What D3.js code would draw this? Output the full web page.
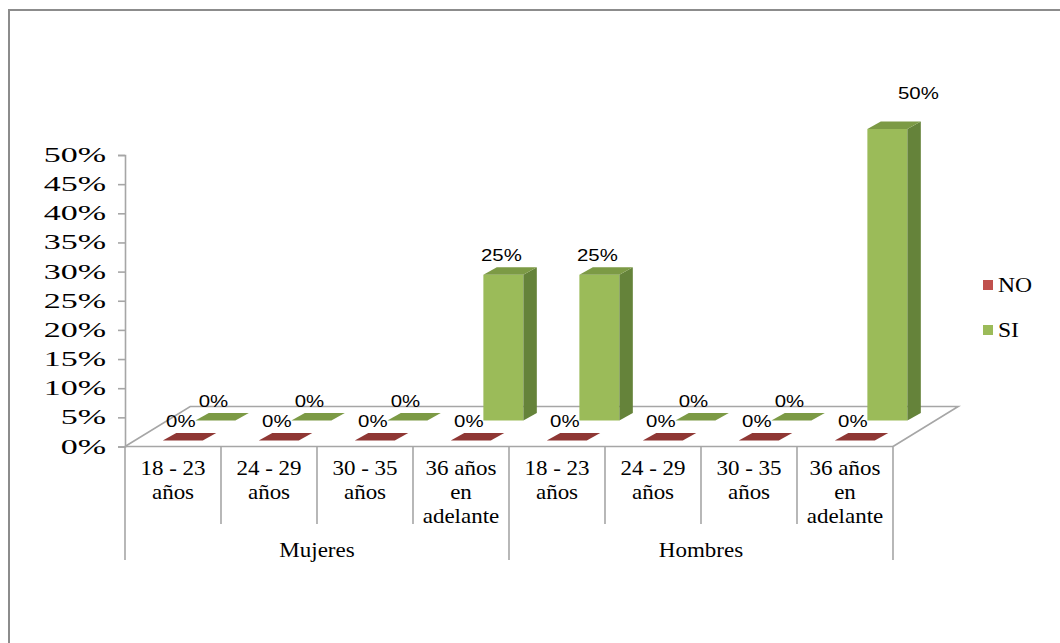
<!DOCTYPE html>
<html>
<head>
<meta charset="utf-8">
<script src="https://cdn.jsdelivr.net/npm/d3@7/dist/d3.min.js"></script>
<style>
  html, body { margin: 0; padding: 0; background: #fff; }
  svg { display: block; }
</style>
</head>
<body>
<div id="chart"></div>
<script>
// Respuestas SI / NO por sexo y grupo de edad
const groups = ["Mujeres", "Hombres"];
const ageBands = [["18 - 23", "años"], ["24 - 29", "años"], ["30 - 35", "años"], ["36 años", "en", "adelante"]];
const seriesNames = ["NO", "SI"];
const noValues = [0, 0, 0, 0, 0, 0, 0, 0];
const siValues = [0, 0, 0, 0.25, 0.25, 0, 0, 0.5];
const yTicks = [0, 0.05, 0.10, 0.15, 0.20, 0.25, 0.30, 0.35, 0.40, 0.45, 0.50];

const W = 1060, H = 643;
const categories = [];
groups.forEach((g, gi) => ageBands.forEach((a, ai) => categories.push({ key: g + "|" + ai, group: g, lines: a })));
const series = [
  { name: seriesNames[0], values: noValues, front: "#C0504D", side: "#7E2F2D", top: "#8F3734", row: 0 },
  { name: seriesNames[1], values: siValues, front: "#9BBB59", side: "#65833A", top: "#7C9A45", row: 1 }
];

const svg = d3.select("#chart").append("svg").attr("width", W).attr("height", H);

// frame
svg.append("rect").attr("x", 9).attr("y", 10).attr("width", 1100).attr("height", 700)
  .attr("fill", "none").attr("stroke", "#8C8C8C").attr("stroke-width", 2);

const plotLeft = 125, plotRight = 893, floorY = 446.5, topY = 155;
const x = d3.scaleBand().domain(categories.map(c => c.key)).range([plotLeft, plotRight]).padding(0);
const y = d3.scaleLinear().domain([0, 0.5]).range([floorY, topY]);

// oblique depth: dy up, dx = k * dy
const K = 1.63;
const floorDepth = 40;
const rowOffset = [6, 26];   // depth of each series row front edge
const barDepth = 7.5;
const barW = 40;

const serif = "'Liberation Serif', 'Times New Roman', serif";
const sans = "'Liberation Sans', Arial, sans-serif";

function stretchedText(sel, tx, ty, sx, str) {
  return sel.append("text").attr("transform", `translate(${tx},${ty}) scale(${sx},1)`).text(str);
}

// floor
const gray = "#A6A6A6";
svg.append("path")
  .attr("d", d3.line()([
    [plotLeft, floorY], [plotLeft + K * floorDepth, floorY - floorDepth],
    [plotRight + K * floorDepth, floorY - floorDepth], [plotRight, floorY]
  ]))
  .attr("fill", "none").attr("stroke", gray).attr("stroke-width", 1.6);

// y axis
const yAxis = svg.append("g").attr("transform", `translate(${plotLeft},0)`)
  .call(d3.axisLeft(y).tickValues(yTicks).tickSize(7).tickFormat(d => ""));
yAxis.select(".domain").attr("stroke", gray).attr("stroke-width", 1.6);
yAxis.selectAll(".tick line").attr("stroke", gray).attr("stroke-width", 1.6);
const yLab = svg.append("g").attr("font-family", serif).attr("font-size", 21).attr("fill", "#000").attr("text-anchor", "end");
yTicks.forEach(t => stretchedText(yLab, 106, y(t) + 7, 1.62, d3.format(".0%")(t)));

// category axis
const xAxis = svg.append("g").attr("stroke", gray).attr("stroke-width", 1.6);
xAxis.append("line").attr("x1", plotLeft).attr("x2", plotRight).attr("y1", floorY).attr("y2", floorY);
categories.forEach((c, i) => {
  const xb = x(c.key);
  const isGroupEdge = i % ageBands.length === 0;
  xAxis.append("line").attr("x1", xb).attr("x2", xb).attr("y1", floorY).attr("y2", isGroupEdge ? 560 : 524);
});
xAxis.append("line").attr("x1", plotRight).attr("x2", plotRight).attr("y1", floorY).attr("y2", 560);

const catLab = svg.append("g").attr("font-family", serif).attr("font-size", 20).attr("fill", "#000").attr("text-anchor", "middle");
categories.forEach(c => {
  const cx = x(c.key) + x.bandwidth() / 2;
  c.lines.forEach((ln, li) => stretchedText(catLab, cx, 475 + li * 24, 1.15, ln));
});
groups.forEach((g, gi) => {
  const first = x(categories[gi * ageBands.length].key);
  const cx = first + x.bandwidth() * ageBands.length / 2;
  stretchedText(catLab, cx, 557, 1.15, g);
});

// bars, back row first
const bars = svg.append("g");
const labels = [];
const yMax = y.domain()[1];
series.slice().reverse().forEach(s => {
  s.values.forEach((v, i) => {
    const c = categories[i];
    const d0 = rowOffset[s.row];
    const cx = x(c.key) + x.bandwidth() / 2 + K * d0;
    const x0 = cx - barW / 2, x1 = cx + barW / 2;
    const yb = y(0) - d0, yt = y(v) - d0;
    const ddx = K * barDepth * 1.1, ddy = barDepth;
    if (yb - yt > 0.5) {
      bars.append("rect").attr("x", x0).attr("y", yt).attr("width", barW).attr("height", yb - yt).attr("fill", s.front);
      bars.append("path").attr("d", d3.line()([[x1, yt], [x1 + ddx, yt - ddy], [x1 + ddx, yb - ddy], [x1, yb]]) + "Z").attr("fill", s.side);
    }
    bars.append("path").attr("d", d3.line()([[x0, yt], [x0 + ddx, yt - ddy], [x1 + ddx, yt - ddy], [x1, yt]]) + "Z").attr("fill", s.top);
    // a bar that reaches the top of the axis gets its label lifted up and to the right
    const atTop = v >= yMax;
    labels.push({ x: cx - 2 + (atTop ? 33 : 0), y: yt - 20 - (atTop ? 16 : 0), text: d3.format(".0%")(v) });
  });
});

const lab = svg.append("g").attr("font-family", sans).attr("font-size", 17).attr("fill", "#000").attr("text-anchor", "middle");
labels.forEach(l => stretchedText(lab, l.x, l.y + 6, 1.2, l.text));

// legend
const leg = svg.append("g");
series.forEach((s, i) => {
  const ly = 285 + i * 45;
  leg.append("rect").attr("x", 983).attr("y", ly - 5).attr("width", 10).attr("height", 10).attr("fill", s.front);
  leg.append("text").attr("transform", `translate(998,${ly + 7}) scale(1.18,1)`)
    .attr("font-family", serif).attr("font-size", 20).attr("fill", "#000").text(s.name);
});
</script>
</body>
</html>
